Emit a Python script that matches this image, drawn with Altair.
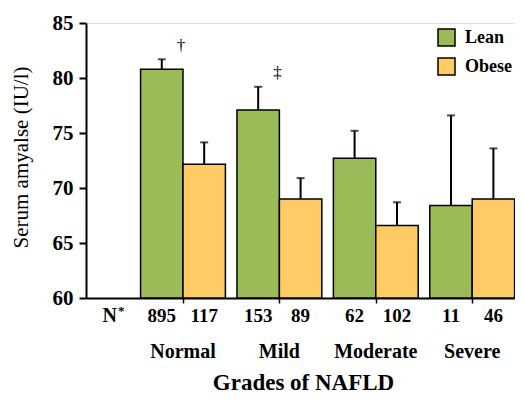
import altair as alt
import pandas as pd

grades = ["Normal", "Mild", "Moderate", "Severe"]
lean_mean = [80.8, 77.1, 72.7, 68.4]
lean_err = [0.9, 2.1, 2.5, 8.2]
obese_mean = [72.15, 69.0, 66.6, 69.0]
obese_err = [2.0, 1.9, 2.1, 4.6]
lean_n = [895, 153, 62, 11]
obese_n = [117, 89, 102, 46]
marks_text = ["†", "‡"]
marks_value = [82.9, 80.45]
marks_group = [0, 1]

GREEN = "#9BBB59"
ORANGE = "#FFCB66"
FONT = "Liberation Serif, Times New Roman, Times, serif"
BW = 0.44

rows = []
for i, g in enumerate(grades):
    rows.append(dict(grade=g, group="Lean", x0=i - BW, x1=i, xc=i - BW / 2,
                     mean=lean_mean[i], top=lean_mean[i] + lean_err[i],
                     n=str(lean_n[i]), base=60))
    rows.append(dict(grade=g, group="Obese", x0=i, x1=i + BW, xc=i + BW / 2,
                     mean=obese_mean[i], top=obese_mean[i] + obese_err[i],
                     n=str(obese_n[i]), base=60))
df = pd.DataFrame(rows)
gdf = pd.DataFrame({"grade": grades, "xg": list(range(len(grades)))})
adf = pd.DataFrame({"xa": [g - 0.02 for g in marks_group], "ya": marks_value, "t": marks_text})
ndf = pd.DataFrame({"xn": [-0.76], "t": ["N"]})
sdf = pd.DataFrame({"xs": [-0.64], "t": ["*"]})

xscale = alt.Scale(domain=[-1.006, 3.444], nice=False, zero=False)
yscale = alt.Scale(domain=[60, 85], nice=False, zero=False)
xaxis = alt.Axis(values=[0, 1, 2, 3], labels=False, grid=False, tickSize=5, tickWidth=1.5,
                 tickColor="black", domainColor="black", domainWidth=2,
                 title="Grades of NAFLD", titleFont=FONT, titleFontSize=23,
                 titleFontWeight="bold", titleColor="black", titleX=217, titleY=91,
                 titleBaseline="alphabetic", titleAlign="center")
yaxis = alt.Axis(values=[60, 65, 70, 75, 80, 85], format="d", grid=False, tickSize=7,
                 tickWidth=2, tickColor="black", domainColor="black", domainWidth=2,
                 labelFont=FONT, labelFontSize=21, labelFontWeight="bold", labelColor="black",
                 labelPadding=6, title="Serum amyalse (IU/l)", titleFont=FONT,
                 titleFontSize=21, titleFontWeight="normal", titleColor="black",
                 titleX=-65, titleY=134, titleAngle=-90, titleAlign="center",
                 titleBaseline="middle")


def X(f):
    return alt.X(f"{f}:Q", scale=xscale, axis=xaxis)


def Y(f):
    return alt.Y(f"{f}:Q", scale=yscale, axis=yaxis)


bars = alt.Chart(df).mark_bar(stroke="black", strokeWidth=1.5).encode(
    x=X("x0"), x2="x1", y=Y("mean"), y2="base",
    color=alt.Color("group:N", scale=alt.Scale(domain=["Lean", "Obese"], range=[GREEN, ORANGE]),
                    legend=alt.Legend(title=None, orient="none", legendX=351, legendY=5,
                                      symbolType="square", symbolSize=289,
                                      symbolStrokeColor="black", symbolStrokeWidth=1.5,
                                      symbolOpacity=1, labelFont=FONT, labelFontSize=18,
                                      labelFontWeight="bold", labelColor="black",
                                      labelOffset=9, rowPadding=6, padding=0)),
)

err = alt.Chart(df).mark_rule(color="black", strokeWidth=2).encode(
    x=X("xc"), y=Y("mean"), y2="top")
caps = alt.Chart(df).mark_tick(color="black", orient="horizontal", size=8, thickness=2).encode(
    x=X("xc"), y=Y("top"))

counts = alt.Chart(df).mark_text(font=FONT, fontSize=19, fontWeight="bold", color="black",
                                 baseline="alphabetic").encode(
    x=X("xc"), y=alt.value(299), text="n:N")
names = alt.Chart(gdf).mark_text(font=FONT, fontSize=20, fontWeight="bold", color="black",
                                 baseline="alphabetic").encode(
    x=X("xg"), y=alt.value(335), text="grade:N")
nlab = alt.Chart(ndf).mark_text(font=FONT, fontSize=20, fontWeight="bold", color="black",
                                baseline="alphabetic").encode(
    x=X("xn"), y=alt.value(299), text="t:N")
star = alt.Chart(sdf).mark_text(font=FONT, fontSize=13, fontWeight="bold", color="black",
                                baseline="alphabetic").encode(
    x=X("xs"), y=alt.value(292), text="t:N")
ann = alt.Chart(adf).mark_text(font=FONT, fontSize=17, color="black", baseline="middle").encode(
    x=X("xa"), y=Y("ya"), text="t:N")

chart = alt.layer(bars, err, caps, counts, names, nlab, star, ann).properties(
    width=429, height=275,
    padding={"left": 78, "top": 15, "right": 0, "bottom": 97},
    autosize=alt.AutoSizeParams(type="none"),
).configure_view(stroke=None).configure(font=FONT)

chart.save("out.html", embed_options={"renderer": "svg", "actions": False})
